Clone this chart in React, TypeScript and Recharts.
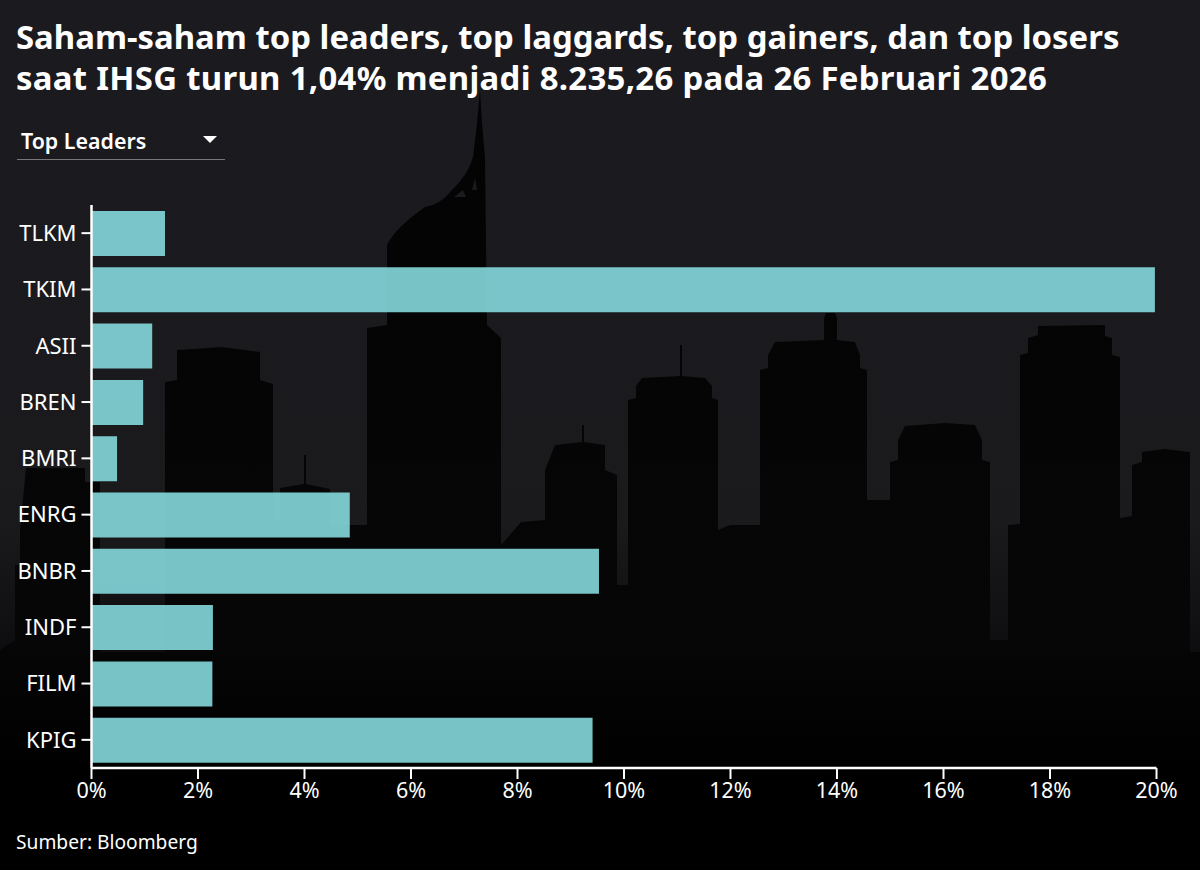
import { Bar, BarChart, XAxis, YAxis } from "recharts";

const tickers = ["TLKM", "TKIM", "ASII", "BREN", "BMRI", "ENRG", "BNBR", "INDF", "FILM", "KPIG"];
const changes = [1.38, 19.97, 1.14, 0.97, 0.48, 4.85, 9.53, 2.28, 2.27, 9.41];
const xTicks = [0, 2, 4, 6, 8, 10, 12, 14, 16, 18, 20];

const data = tickers.map((ticker, i) => ({ ticker, change: changes[i] }));

const FONT = "'Noto Sans', sans-serif";

// backdrop only: rough skyline behind the chart, one subpath per building
const skyline = [
  "M0 870V650L15 640V565H20V530L26 468H85V482H100V870Z",
  "M165 870V382L177 380V350L222 347L260 352V380L273 384V870Z",
  "M273 870V520H280V488L304 484V455H306V484L330 489V525H367V870Z",
  "M367 870V328L387 325V245Q395 228 425 207Q440 205 452 190Q468 175 473 157L477 123L480 90L482 123L485 157L487 325L501 338V870Z",
  "M501 870V545L521 522L545 520V470L555 445L582 442V425H584V442L605 445V470L617 475V585H628V870Z",
  "M628 870V400L636 398V386L642 378L680 376V345H682V376L705 378L712 386V398L718 400V530L730 525L737 525V870Z",
  "M737 870V525H760V370L768 368V355L775 342L824 340V318L826 313H835L837 318V340L855 342L860 355V368L867 370V500H890V870Z",
  "M890 870V462L898 460V440L905 426L945 423L975 425L982 440V460L990 462V640H1008V525L1020 524V355L1028 353V338L1038 335V326L1105 325V336L1112 338V355L1120 357V518L1132 516V465L1142 462V452L1165 449L1190 452V870Z",
  "M0 870V652H1200V870Z",
].join(" ");

const Backdrop = () => (
  <svg width={1200} height={870} style={{ position: "absolute", left: 0, top: 0 }}>
    <defs>
      <linearGradient id="bg-fill" x1="0" y1="0" x2="0" y2="1">
        <stop offset="0%" stopColor="#1b1a1f" />
        <stop offset="60%" stopColor="#1a1a1d" />
        <stop offset="72%" stopColor="#101012" />
        <stop offset="88%" stopColor="#000000" />
        <stop offset="100%" stopColor="#000000" />
      </linearGradient>
      <linearGradient id="city-fill" x1="0" y1="0" x2="0" y2="1">
        <stop offset="0%" stopColor="#030304" />
        <stop offset="70%" stopColor="#060606" />
        <stop offset="88%" stopColor="#000000" />
      </linearGradient>
    </defs>
    <rect width={1200} height={870} fill="url(#bg-fill)" />
    <path d={skyline} fill="url(#city-fill)" />
    <path d="M454 197L463 190L466 197Z M472 190L475 178L477 190Z" fill="#1b1a1f" />
  </svg>
);

export default function App() {
  return (
    <div
      style={{
        position: "absolute",
        left: 0,
        top: 0,
        width: 1200,
        height: 870,
        overflow: "hidden",
        fontFamily: FONT,
        color: "#fff",
      }}
    >
      <Backdrop />
      <div
        style={{
          position: "absolute",
          left: 16,
          top: 16,
          width: 1180,
          fontSize: 32.9,
          lineHeight: "41px",
          fontWeight: 700,
          whiteSpace: "nowrap",
        }}
      >
        Saham-saham top leaders, top laggards, top gainers, dan top losers
        <br />
        <span style={{ letterSpacing: 0.3 }}>saat IHSG turun 1,04% menjadi 8.235,26 pada 26 Februari 2026</span>
      </div>
      <div
        style={{
          position: "absolute",
          left: 17,
          top: 124,
          width: 208,
          height: 36,
          borderBottom: "1px solid #77777a",
          boxSizing: "border-box",
        }}
      >
        <span style={{ position: "absolute", left: 4, top: 2, fontSize: 21.4, lineHeight: "30px", fontWeight: 600 }}>
          Top Leaders
        </span>
        <span
          style={{
            position: "absolute",
            left: 186,
            top: 12,
            borderLeft: "7.5px solid transparent",
            borderRight: "7.5px solid transparent",
            borderTop: "7.5px solid #fff",
          }}
        />
      </div>
      <BarChart
        width={1200}
        height={870}
        data={data}
        layout="vertical"
        barCategoryGap={0}
        margin={{ top: 205, right: 43.5, bottom: 0, left: 0 }}
        style={{ position: "absolute", left: 0, top: 0 }}
      >
        <XAxis
          type="number"
          domain={[0, 20]}
          ticks={xTicks}
          interval={0}
          height={102}
          tickSize={11}
          tickMargin={4}
          tickFormatter={(v) => `${v}%`}
          tick={{ fill: "#fff", fontSize: 21.5, fontFamily: FONT }}
          axisLine={{ stroke: "#fff", strokeWidth: 2.5 }}
          tickLine={{ stroke: "#fff", strokeWidth: 2 }}
        />
        <YAxis
          type="category"
          dataKey="ticker"
          width={91.5}
          interval={0}
          tickSize={10}
          tickMargin={5}
          tick={{ fill: "#fff", fontSize: 22, fontFamily: FONT }}
          axisLine={{ stroke: "#fff", strokeWidth: 2.5 }}
          tickLine={{ stroke: "#fff", strokeWidth: 2 }}
        />
        <Bar dataKey="change" barSize={45} fill="#85d8dc" fillOpacity={0.9} isAnimationActive={false} />
      </BarChart>
      <div style={{ position: "absolute", left: 16, top: 828, fontSize: 19.2, lineHeight: "28px" }}>Sumber: Bloomberg</div>
    </div>
  );
}
